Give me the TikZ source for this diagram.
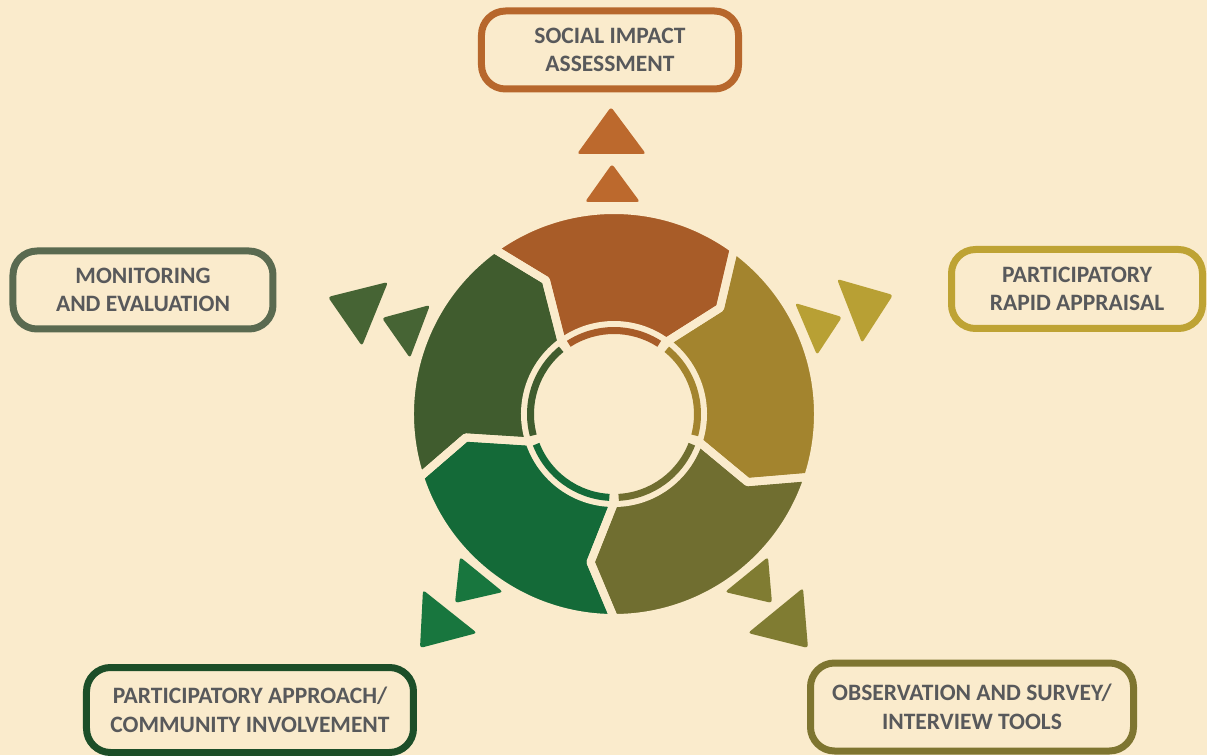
\documentclass[tikz,border=0pt]{standalone}
\usepackage{fontspec}
\setmainfont{Carlito}
\definecolor{bgcol}{RGB}{250,235,204}
\definecolor{txtcol}{RGB}{88,89,91}
\definecolor{segsia}{RGB}{168,92,40}
\definecolor{segpra}{RGB}{163,132,46}
\definecolor{segobs}{RGB}{112,110,48}
\definecolor{segpac}{RGB}{20,106,56}
\definecolor{segmon}{RGB}{64,92,46}
\definecolor{trisia}{RGB}{188,105,45}
\definecolor{tripra}{RGB}{184,160,52}
\definecolor{triobs}{RGB}{128,124,50}
\definecolor{tripac}{RGB}{24,118,62}
\definecolor{trimon}{RGB}{70,100,52}
\definecolor{boxsia}{RGB}{183,103,44}
\definecolor{boxpra}{RGB}{190,163,52}
\definecolor{boxobs}{RGB}{126,117,48}
\definecolor{boxpac}{RGB}{28,78,40}
\definecolor{boxmon}{RGB}{90,106,80}
\tikzset{lbl/.style={draw=#1,line width=7pt,rounded corners=24pt,fill=bgcol,
	text=txtcol,align=center,inner sep=0pt,
	font=\fontsize{23.5}{28.5}\selectfont\bfseries},
	tri/.style={fill=#1,rounded corners=3pt}}
\begin{document}
\begin{tikzpicture}[x=1pt,y=1pt]
	\fill[bgcol] (-614,-341) rectangle (593,414);
	\useasboundingbox (-614,-341) rectangle (593,414);
	\foreach \a/\c in {126/segsia,54/segpra,-18/segobs,-90/segpac,-162/segmon}
	\fill[\c] (\a:204) arc[start angle=\a,end angle=\a-72,radius=204]
	-- ({\a-81}:150) -- ({\a-72}:89)
	arc[start angle=\a-72,end angle=\a,radius=89] -- ({\a-9}:150) -- cycle;
	\foreach \a in {126,54,-18,-90,-162}
	\draw[bgcol,line width=8pt,line join=round] (\a:204)
	arc[start angle=\a,end angle=\a-72,radius=204]
	-- ({\a-81}:150) -- ({\a-72}:89)
	arc[start angle=\a-72,end angle=\a,radius=89] -- ({\a-9}:150) -- cycle;
	\foreach \a/\c in {126/segsia,54/segpra,-18/segobs,-90/segpac,-162/segmon}
	\draw[\c,line width=7pt] ({\a-3.2}:83.5)
	arc[start angle=\a-3.2,end angle=\a-68.8,radius=83.5];
	\fill[tri=trisia] (-3,307) -- (-37,260) -- (32,260) -- cycle;
	\fill[tri=trisia] (-2,250) -- (-29,212) -- (26,212) -- cycle;
	\fill[tri=tripra] (181,111) -- (203,59) -- (228,97) -- cycle;
	\fill[tri=tripra] (223,135) -- (248,71) -- (279,119) -- cycle;
	\fill[tri=triobs] (154,-143) -- (111,-178) -- (158,-189) -- cycle;
	\fill[tri=triobs] (189,-174) -- (134,-219) -- (194,-234) -- cycle;
	\fill[tri=tripac] (-154,-143) -- (-159,-189) -- (-111,-178) -- cycle;
	\fill[tri=tripac] (-191,-176) -- (-194,-234) -- (-137,-219) -- cycle;
	\fill[tri=trimon] (-232,96) -- (-184,109) -- (-204,56) -- cycle;
	\fill[tri=trimon] (-286,117) -- (-226,132) -- (-252,68) -- cycle;
	\node[lbl=boxsia,minimum width=257pt,minimum height=78pt] (sia) at (-4,364)
	{SOCIAL IMPACT\\ASSESSMENT};
	\node[lbl=boxpra,minimum width=251pt,minimum height=79pt] (pra) at (463,125)
	{PARTICIPATORY\\RAPID APPRAISAL};
	\node[lbl=boxobs,minimum width=323pt,minimum height=88pt] (obs) at (358,-293)
	{OBSERVATION AND SURVEY/\\INTERVIEW TOOLS};
	\node[lbl=boxpac,minimum width=327pt,minimum height=85pt] (pac) at (-364,-296)
	{PARTICIPATORY APPROACH/\\COMMUNITY INVOLVEMENT};
	\node[lbl=boxmon,minimum width=260pt,minimum height=78pt] (mon) at (-471,124)
	{MONITORING\\AND EVALUATION};
\end{tikzpicture}
\end{document}
